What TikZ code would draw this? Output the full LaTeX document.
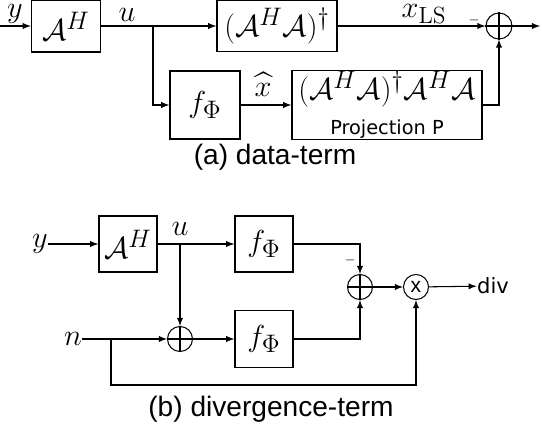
\documentclass[tikz,border=0pt]{standalone}
\usepackage{amsmath}
\usepackage{amssymb}
\usepackage{fontspec}
\setsansfont{Liberation Sans}
\newfontfamily\dejavu{DejaVu Sans}
\usepackage{tikz}

\begin{document}
\begin{tikzpicture}[
    x=0.02cm, y=-0.02cm,
    line width=0.6pt,
    block/.style={rectangle, draw, line width=0.8pt, inner sep=0pt,
        font=\fontsize{19}{22}\selectfont},
    junction/.style={circle, draw, inner sep=0pt, minimum size=0.5cm},
    lbl/.style={inner sep=0pt, font=\fontsize{19}{22}\selectfont},
    caption/.style={inner sep=0pt, font=\sffamily\fontsize{16}{19}\selectfont}
]
\useasboundingbox (0,0) rectangle (542,426);

% (a) data-term
\coordinate (yin) at (0,26);
\node[block, minimum width=1.38cm, minimum height=1.04cm] (ah1) at (66,26) {$\mathcal{A}^H$};
\node[block, minimum width=2.4cm, minimum height=1.02cm] (pinv) at (277,26) {$(\mathcal{A}^H\mathcal{A})^\dagger$};
\node[block, minimum width=1.4cm, minimum height=1.36cm] (f1) at (205,105) {$f_\Phi$};
\node[block, minimum width=3.8cm, minimum height=1.38cm, align=center] (proj) at (387,105)
    {$(\mathcal{A}^H\mathcal{A})^\dagger\mathcal{A}^H\mathcal{A}$\\[-2pt]{\dejavu\fontsize{11}{13}\selectfont Projection P}};
\node[junction, minimum size=0.52cm] (sum1) at (499,26) {};
\coordinate (b1) at (153,26);
\coordinate (out) at (540,26);

\node[lbl] (ylbl1) at (15,14) {$y$};
\node[lbl] (ulbl1) at (127,15) {$u$};
\node[lbl] (xls) at (424,14) {$x_{\mathrm{LS}}$};
\node[lbl] (xhat) at (263,84) {$\widehat{x}$};
\node[inner sep=0pt, font=\scriptsize] (m1) at (474,20) {$-$};

\draw[-latex] (yin) -- (ah1);
\draw (ah1) -- (b1);
\draw[-latex] (b1) -- (pinv);
\draw[-latex] (b1) |- (f1);
\draw[-latex] (f1) -- (proj);
\draw[-latex] (pinv) -- (sum1);
\draw[-latex] (proj) -| (sum1);
\draw[-latex] (sum1) -- (out);
\draw (sum1.north) -- (sum1.south) (sum1.west) -- (sum1.east);

\node[caption] (capa) at (275,157) {(a) data-term};

% (b) divergence-term
\node[lbl] (y2) at (40,244) {$y$};
\node[block, minimum width=1.16cm, minimum height=1.12cm] (ah2) at (128,244) {$\mathcal{A}^H$};
\node[block, minimum width=1.16cm, minimum height=1.12cm] (f2) at (264,244) {$f_\Phi$};
\node[block, minimum width=1.16cm, minimum height=1.14cm] (f3) at (264,339) {$f_\Phi$};
\node[junction] (sum2) at (180,339) {};
\node[junction] (sum3) at (360,287) {};
\node[junction, font=\sffamily\fontsize{12}{14}\selectfont] (mult) at (416,287) {x};
\node[lbl] (n) at (73,339) {$n$};
\node[inner sep=0pt, font=\dejavu\fontsize{12}{14}\selectfont] (div) at (493,286) {div};
\node[inner sep=0pt, font=\scriptsize] (m2) at (350,260) {$-$};
\node[lbl] (ulbl2) at (180,229) {$u$};
\coordinate (b2) at (180,244);
\coordinate (b3) at (111,339);
\coordinate (low) at (111,385);

\draw[-latex] (y2) -- (ah2);
\draw[-latex] (ah2) -- (f2);
\draw[-latex] (b2) -- (sum2);
\draw[-latex] (n) -- (sum2);
\draw[-latex] (sum2) -- (f3);
\draw[-latex] (f2) -| (sum3);
\draw[-latex] (f3) -| (sum3);
\draw[-latex] (sum3) -- (mult);
\draw[-latex] (mult) -- (div);
\draw[-latex] (b3) -- (low) -| (mult);
\draw (sum2.north) -- (sum2.south) (sum2.west) -- (sum2.east);
\draw (sum3.north) -- (sum3.south) (sum3.west) -- (sum3.east);

\node[caption] (capb) at (271,409) {(b) divergence-term};
\end{tikzpicture}
\end{document}
